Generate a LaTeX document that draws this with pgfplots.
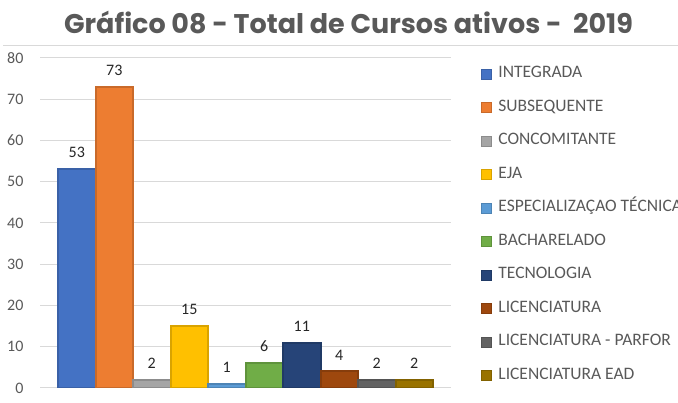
\documentclass[border=0pt]{standalone}
\usepackage{pgfplots}
\pgfplotsset{compat=1.18}
\usepackage{fontspec}
\setmainfont{Carlito}
\newfontfamily\titlefont{Poppins}
\definecolor{titlegray}{HTML}{595959}
\definecolor{linegray}{HTML}{D9D9D9}
\definecolor{cInt}{HTML}{4472C4}
\definecolor{cSub}{HTML}{ED7D31}
\definecolor{cCon}{HTML}{A5A5A5}
\definecolor{cEja}{HTML}{FFC000}
\definecolor{cEsp}{HTML}{5B9BD5}
\definecolor{cBac}{HTML}{70AD47}
\definecolor{cTec}{HTML}{264478}
\definecolor{cLic}{HTML}{9E480E}
\definecolor{cPar}{HTML}{636363}
\definecolor{cEad}{HTML}{997300}

\pgfplotsset{
  bar/.style={fill=#1, draw=#1!85!black, line width=2pt, bar shift=0pt}
}

\begin{document}
\begin{tikzpicture}[x=1pt,y=1pt]
\path[use as bounding box] (0,0) rectangle (678,403);
\node[font=\titlefont\bfseries\fontsize{27}{30}\selectfont, text=titlegray] at (348.5,381)
  {Gráfico 08 - Total de Cursos ativos -\ \ 2019};
\draw[linegray, line width=1pt] (3,357) -- (678,357);

\begin{axis}[
  at={(40pt,15pt)}, anchor=south west,
  scale only axis, width=411pt, height=330pt,
  ybar, bar width=37.5pt,
  xmin=-0.98, xmax=9.98, ymin=0, ymax=80,
  ytick={0,10,...,80}, xtick=\empty,
  ymajorgrids, grid style={linegray, line width=1pt},
  axis line style={draw=none}, major tick length=0pt,
  /pgf/number format/assume math mode=true,
  yticklabel style={font=\fontsize{16}{18}\selectfont, text=titlegray, xshift=-13pt},
  nodes near coords,
  every node near coord/.append style={font=\fontsize{16}{18}\selectfont, text=black!85, yshift=7pt},
  legend cell align=left,
  legend image code/.code={\fill[#1, line width=0.4pt] (0pt,-5pt) rectangle (10pt,5pt); \path (15pt,0pt);},
  legend style={at={(1.0730,0.977)}, anchor=north west, draw=none, fill=none,
    font=\fontsize{17.5}{20}\selectfont, text=titlegray, row sep=17.5pt, inner sep=0pt,
    nodes={text height=11pt, text depth=3pt, inner sep=1pt}},
]
\addplot[bar=cInt] coordinates {(0,53)};
\addlegendentry{INTEGRADA}
\addplot[bar=cSub] coordinates {(1,73)};
\addlegendentry{SUBSEQUENTE}
\addplot[bar=cCon] coordinates {(2,2)};
\addlegendentry{CONCOMITANTE}
\addplot[bar=cEja] coordinates {(3,15)};
\addlegendentry{EJA}
\addplot[bar=cEsp] coordinates {(4,1)};
\addlegendentry{ESPECIALIZAÇAO TÉCNICA}
\addplot[bar=cBac] coordinates {(5,6)};
\addlegendentry{BACHARELADO}
\addplot[bar=cTec] coordinates {(6,11)};
\addlegendentry{TECNOLOGIA}
\addplot[bar=cLic] coordinates {(7,4)};
\addlegendentry{LICENCIATURA}
\addplot[bar=cPar] coordinates {(8,2)};
\addlegendentry{LICENCIATURA - PARFOR}
\addplot[bar=cEad] coordinates {(9,2)};
\addlegendentry{LICENCIATURA EAD}
\end{axis}
\end{tikzpicture}
\end{document}
